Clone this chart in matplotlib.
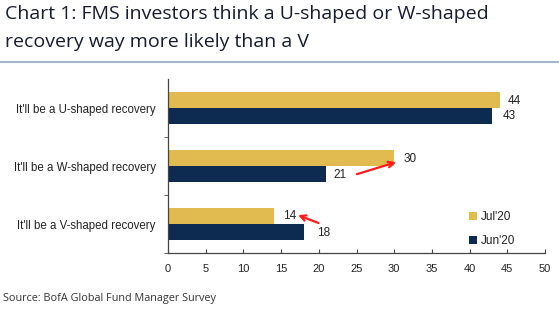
import matplotlib
matplotlib.use('Agg')
import matplotlib.pyplot as plt
import numpy as np

# data
categories = ["It'll be a U-shaped recovery",
              "It'll be a W-shaped recovery",
              "It'll be a V-shaped recovery"]
jul20 = [44, 30, 14]
jun20 = [43, 21, 18]
series_names = ["Jul'20", "Jun'20"]
xticks = [0, 5, 10, 15, 20, 25, 30, 35, 40, 45, 50]

GOLD = '#e2bb50'
NAVY = '#0d2a50'
TITLE_C = '#161c30'

fig = plt.figure(figsize=(5.59, 3.23), dpi=100)
ax = fig.add_axes([168 / 559, 1 - 253 / 323, 377 / 559, 174 / 323])

ypos = np.arange(len(categories))[::-1]
h = 0.276
ax.barh(ypos + h / 2, jul20, height=h, color=GOLD, label=series_names[0])
ax.barh(ypos - h / 2, jun20, height=h, color=NAVY, label=series_names[1])

# value labels (offsets)
lab_font = dict(family='Liberation Sans', fontsize=8.5, color='#222222')
ax.text(jul20[0] + 1.0, ypos[0] + 0.12, str(jul20[0]), va='center', ha='left', **lab_font)
ax.text(jun20[0] + 1.4, ypos[0] - 0.14, str(jun20[0]), va='center', ha='left', **lab_font)
ax.text(jul20[1] + 1.2, ypos[1] + 0.12, str(jul20[1]), va='center', ha='left', **lab_font)
ax.text(jun20[1] + 0.9, ypos[1] - 0.155, str(jun20[1]), va='center', ha='left', **lab_font)
ax.text(jul20[2] + 1.2, ypos[2] + 0.138, str(jul20[2]), va='center', ha='left', **lab_font)
ax.text(jun20[2] + 1.8, ypos[2] - 0.155, str(jun20[2]), va='center', ha='left', **lab_font)

arrow = dict(arrowstyle='->', color='#ff1a1a', lw=1.6, mutation_scale=10)
ax.annotate('', xy=(30.6, ypos[1] + 0.08), xytext=(24.7, ypos[1] - 0.155),
            arrowprops=arrow)
ax.annotate('', xy=(16.9, ypos[2] + 0.17), xytext=(20.3, ypos[2] - 0.0),
            arrowprops=arrow)

ax.set_xlim(0, 50)
ax.set_ylim(-0.5, 2.5)
ax.set_xticks(xticks)
ax.set_xticklabels([str(t) for t in xticks], family='Liberation Sans', fontsize=8,
                   color='#222222')
ax.set_yticks(ypos)
ax.set_yticklabels(categories, family='Liberation Sans', fontsize=8.3, color='#222222')
ax.set_yticks([-0.5, 0.5, 1.5], minor=True)
ax.tick_params(axis='y', which='major', length=0, pad=9)
ax.tick_params(axis='y', which='minor', length=3, direction='out', color='#444444')
ax.tick_params(axis='x', length=3, direction='in', color='#444444', pad=8)
for s in ['top', 'right']:
    ax.spines[s].set_visible(False)
for s in ['left', 'bottom']:
    ax.spines[s].set_color('#444444')
    ax.spines[s].set_linewidth(0.9)

leg = ax.legend(loc='upper left', bbox_to_anchor=((469 - 168) / 377, (253 - 211) / 174),
                frameon=False, borderpad=0, borderaxespad=0,
                prop={'family': 'Liberation Sans', 'size': 8.5},
                handlelength=0.7, handleheight=0.7, handletextpad=0.3,
                labelspacing=1.05)
for t in leg.get_texts():
    t.set_color('#222222')

fig.text(5 / 559, 1 - 14 / 323, 'Chart 1: FMS investors think a U-shaped or W-shaped',
         family='Open Sans', fontsize=14, color=TITLE_C, va='center', ha='left')
fig.text(5 / 559, 1 - 42 / 323, 'recovery way more likely than a V',
         family='Open Sans', fontsize=14, color=TITLE_C, va='center', ha='left')
fig.add_artist(plt.Line2D([0, 1], [1 - 62 / 323, 1 - 62 / 323],
                          transform=fig.transFigure, color='#a8b6cc', lw=1.5))
fig.text(3 / 559, 1 - 298 / 323, 'Source: BofA Global Fund Manager Survey',
         family='Open Sans', fontsize=7.8, color='#333333', va='center', ha='left')

fig.savefig('out.png', dpi=100)
